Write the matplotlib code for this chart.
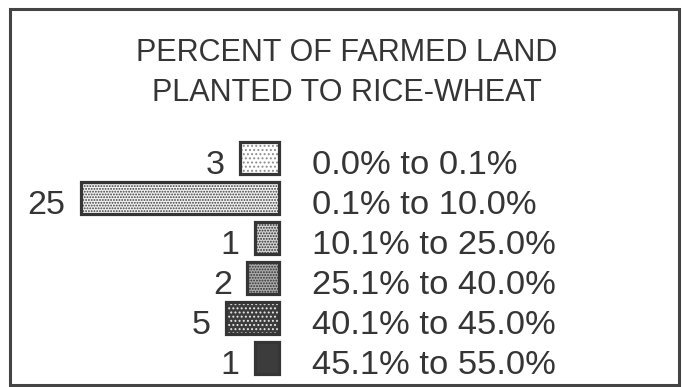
import matplotlib.pyplot as plt
from matplotlib.patches import Rectangle

# counts of districts per share-of-land class
ranges = ["0.0% to 0.1%", "0.1% to 10.0%", "10.1% to 25.0%",
          "25.1% to 40.0%", "40.1% to 45.0%", "45.1% to 55.0%"]
counts = [3, 25, 1, 2, 5, 1]

# stipple shading per class: face, dot colour, hatch
faces = ["#ffffff", "#f2f2f2", "#d4d4d4", "#ababab", "#3c3c3c", "#3c3c3c"]
dots = ["#8c8c8c", "#3c3c3c", "#2e2e2e", "#2e2e2e", "#e8e8e8", "#3c3c3c"]
hatches = ["....", "......", "......", "......", "....", ""]

INK = "#353535"
STUB = 2.3          # minimum box width, in count units
PX_PER_UNIT = 7.25  # horizontal scale of one count
ROW_PX = 40

plt.rcParams["font.family"] = "Liberation Sans"
plt.rcParams["hatch.linewidth"] = 0.9

fig = plt.figure(figsize=(6.82, 3.87), dpi=100)
ax = fig.add_axes([0, 0, 1, 1])
ax.set_xlim(-278.5 / PX_PER_UNIT, (682 - 278.5) / PX_PER_UNIT)
ax.set_ylim((387 - 157.5) / ROW_PX, -157.5 / ROW_PX)
ax.axis("off")

for i, (n, label) in enumerate(zip(counts, ranges)):
    width = n + STUB
    ax.barh(i, -width, height=0.8, color=faces[i], edgecolor=dots[i],
            hatch=hatches[i], linewidth=0)
    ax.barh(i, -width, height=0.8, fill=False, edgecolor=INK, linewidth=2.3)
    ax.annotate(str(n), (-width, i + 0.4), xytext=(-11, 0),
                textcoords="offset points", ha="right", va="baseline",
                fontsize=24.5, color=INK)
    ax.annotate(label, (0, i + 0.4), xytext=(24, 0),
                textcoords="offset points", ha="left", va="baseline",
                fontsize=24.8, color=INK)

fig.text(0.509, 0.863, "PERCENT OF FARMED LAND", ha="center", va="center",
         fontsize=22, color=INK)
fig.text(0.509, 0.760, "PLANTED TO RICE-WHEAT", ha="center", va="center",
         fontsize=22, color=INK)

# surrounding frame
fig.patches.append(Rectangle((10 / 682, 2 / 387), 669 / 682, 376 / 387,
                             transform=fig.transFigure, fill=False,
                             edgecolor="#444444", linewidth=2.2))

fig.savefig("out.png", dpi=100, facecolor="white")
